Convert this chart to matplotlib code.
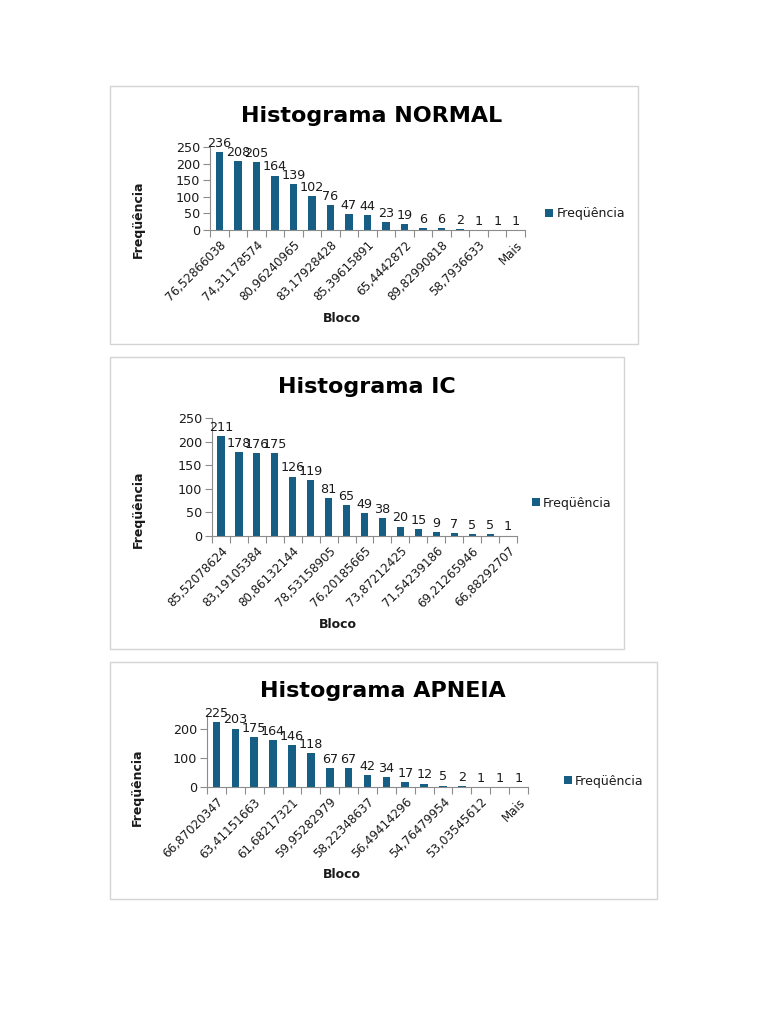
import matplotlib.pyplot as plt
from matplotlib.patches import Rectangle

W, H = 768, 1024

# data
normal_vals = [236, 208, 205, 164, 139, 102, 76, 47, 44, 23, 19, 6, 6, 2, 1, 1, 1]
normal_labels = ["76,52866038", "74,31178574", "80,96240965", "83,17928428",
                 "85,39615891", "65,4442872", "89,82990818", "58,7936633", "Mais"]

ic_vals = [211, 178, 176, 175, 126, 119, 81, 65, 49, 38, 20, 15, 9, 7, 5, 5, 1]
ic_labels = ["85,52078624", "83,19105384", "80,86132144", "78,53158905",
             "76,20185665", "73,87212425", "71,54239186", "69,21265946", "66,88292707"]

apneia_vals = [225, 203, 175, 164, 146, 118, 67, 67, 42, 34, 17, 12, 5, 2, 1, 1, 1]
apneia_labels = ["66,87020347", "63,41151663", "61,68217321", "59,95282979",
                 "58,22348637", "56,49414296", "54,76479954", "53,03545612", "Mais"]

BAR = "#175e85"
TXT = "#1a1a1a"
AXC = "#8c8c8c"

fig = plt.figure(figsize=(W / 100, H / 100), dpi=100)
fig.patch.set_facecolor("white")


def fx(x):
    return x / W


def fy(y):
    return 1 - y / H


def panel(box, ax_box, title, title_xy, vals, labels, yticks,
          ylab_xy, xlab_xy, leg_xy):
    bx0, by0, bx1, by1 = box
    fig.patches.append(Rectangle((fx(bx0), fy(by1)), (bx1 - bx0) / W, (by1 - by0) / H,
                                 transform=fig.transFigure, fill=False,
                                 edgecolor="#d4d4d4", linewidth=1))
    x0, y0, x1, y1 = ax_box
    ax = fig.add_axes([fx(x0), fy(y1), (x1 - x0) / W, (y1 - y0) / H])
    n = len(vals)
    pos = [i + 0.5 for i in range(n)]
    bars = ax.bar(pos, vals, width=0.4, color=BAR, label="Freqüência")
    ax.bar_label(bars, labels=[str(v) for v in vals], padding=1.5, fontsize=9.2, color=TXT)
    ax.set_xlim(0, n)
    ax.set_ylim(0, 250)
    ax.set_yticks(yticks)
    ax.set_xticks(range(n + 1))
    ax.set_xticklabels([])
    ax.set_xticks([pos[i] for i in range(0, n, 2)], minor=True)
    ax.set_xticklabels(labels, minor=True, rotation=45, ha="right", va="top",
                       rotation_mode="anchor", fontsize=8.6, color=TXT)
    ax.tick_params(axis="x", which="minor", length=0, pad=6)
    ax.tick_params(axis="x", which="major", length=5, color=AXC)
    ax.tick_params(axis="y", length=5, color=AXC, labelsize=9.2, labelcolor=TXT, pad=2)
    for s in ["top", "right"]:
        ax.spines[s].set_visible(False)
    for s in ["left", "bottom"]:
        ax.spines[s].set_color(AXC)
    ax.patch.set_alpha(0)
    fig.text(fx(title_xy[0]), fy(title_xy[1]), title, fontsize=16, fontweight="bold",
             ha="center", va="center", color="black")
    fig.text(fx(ylab_xy[0]), fy(ylab_xy[1]), "Freqüência", fontsize=9, fontweight="bold",
             rotation=90, ha="center", va="center", color=TXT)
    fig.text(fx(xlab_xy[0]), fy(xlab_xy[1]), "Bloco", fontsize=9, fontweight="bold",
             ha="center", va="center", color=TXT)
    ax.legend(loc="center left", bbox_to_anchor=(fx(leg_xy[0]), fy(leg_xy[1])),
              bbox_transform=fig.transFigure, frameon=False, fontsize=9,
              handlelength=0.6, handleheight=0.6, handletextpad=0.3,
              borderpad=0, borderaxespad=0, labelcolor=TXT)
    return ax


panel((110, 86, 638, 344), (210, 147, 525, 230), "Histograma NORMAL", (372, 116),
      normal_vals, normal_labels, [0, 50, 100, 150, 200, 250],
      (138, 219), (342, 318), (545, 214))

panel((110, 357, 624, 649), (212, 418, 517, 536), "Histograma IC", (367, 387),
      ic_vals, ic_labels, [0, 50, 100, 150, 200, 250],
      (138, 509), (338, 624), (532, 503))

panel((110, 662, 657, 899), (207, 715, 528, 787), "Histograma APNEIA", (383, 691),
      apneia_vals, apneia_labels, [0, 100, 200],
      (137, 787), (342, 874), (564, 781))

fig.savefig("out.png", dpi=100, facecolor="white")
